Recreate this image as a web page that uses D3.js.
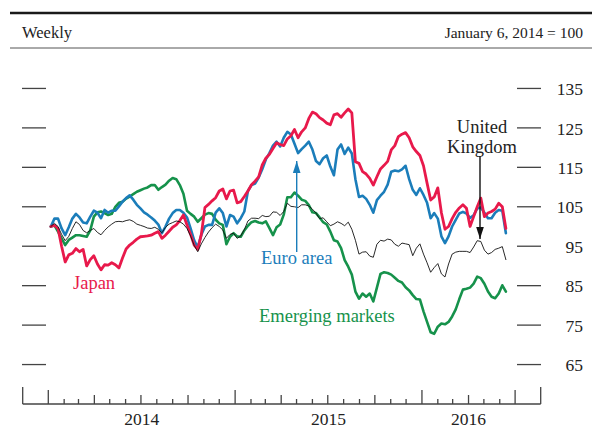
<!DOCTYPE html>
<html>
<head>
<meta charset="utf-8">
<script src="https://cdn.jsdelivr.net/npm/d3@7"></script>
<style>
  html, body { margin: 0; padding: 0; background: #fff; }
  svg { display: block; }
  text { font-family: "Liberation Serif", "Times New Roman", serif; }
</style>
</head>
<body>
<svg id="chart" width="592" height="430"></svg>
<script>
// Equity indexes, weekly, January 6, 2014 = 100
const seriesNames = ["Emerging markets", "Euro area", "Japan", "United Kingdom"];

const japan = [100,100.3,99.5,95,91,92.8,93.2,94.4,93.6,94.2,90,91.6,92.6,90.5,89,90.3,90.2,90.8,90.3,89.5,
  92,94.3,95.3,96,96.8,97.4,97.5,97.6,97.8,98.3,98.7,97,97.8,98.8,99.8,100.4,101.5,102.9,100.4,98,
  95.3,94.2,98,104.8,105.6,106.5,107.3,109,109.5,107,109,109.2,106,106.3,107.6,109,110.6,111.5,112.6,115.6,
  117.3,118.3,119.8,121.2,120.8,120.5,122.2,123,124.6,122.5,124,125,127.4,129,128.6,127.6,127,126.2,125.8,128.3,
  128.6,127.7,128.8,129.8,128.8,116.4,116,113.9,113.3,112.2,110.5,112.6,114.6,115.5,116.5,119.4,120.5,122.8,123.4,123.8,
  122.5,120.2,119,118,115.4,111,106.7,107.5,109.8,103.5,99.3,100,102,103.6,104.7,105.5,104.6,100,102.5,105,
  107.2,102.5,103.4,103.8,104.4,105.9,105,99.5];

const euroArea = [100,102,102,99.5,97.8,99.8,102,103.2,102.3,101,100.8,102.5,104,103.5,102.1,104.2,103.5,104,104,105.1,
  106.3,107.2,107.9,106.8,105.5,104.6,103.6,103,102.3,101.5,100.5,98.3,100,102,103.4,104.2,104.2,103.5,102.3,99.5,
  96.5,94.7,97.9,100,100.4,100.4,103.5,104.6,103.4,100,102.9,102.5,100.8,102.1,103.8,109,110.5,110.9,112.4,114.5,
  117,118.6,120.5,121.5,120.3,122.5,124,123.3,121,118.6,119.6,120.5,121.5,119.5,116.6,115.8,117.3,118,115.2,113,
  119.5,120.8,118.4,120,118.5,112,107.5,107.8,107,105.5,103.5,106.7,107.8,108.8,110.6,113.9,114.2,114,114.5,115.4,
  112,109.3,108,109.7,108,106,102.1,103.4,102,97.5,95.8,97.5,100,101.7,103.3,103.7,103.3,102.2,102.8,104.6,
  104.8,103.5,102.1,102.1,103.5,104.2,104,98.3];

const emerging = [100,100.3,98.7,97,95.3,96.6,97.2,97.8,97.8,97.6,97.4,99,102.5,103.6,103.8,103.4,102.9,103.2,105,106,
  106.3,107.1,107.6,108.2,108.8,109.2,109.6,109.9,110.5,110.5,109.3,110,110.6,111.6,112.3,112,110.5,108.3,104,103.2,
  102.5,101.2,102.1,103,103.4,103.2,101.7,100.8,100.4,95.5,97.4,98.3,97.5,97.4,99,100.2,101.1,101.4,101,100.8,
  101.3,99.6,97.8,99.8,100.5,103,107.4,107.4,108.6,107.8,106.8,106.5,105.4,103.6,103.4,102.3,101.1,100.5,98.7,96.5,
  96.2,94.5,91.5,89.8,87.8,83.5,81.7,83,82.2,83,81,84.5,88,88.4,88.2,87.8,87,86.2,85.8,84.6,
  83.8,82.6,81.6,81.5,78.5,75.8,73.2,72.8,74.6,75.4,75.2,75.8,77.2,79,81.6,84,84.2,84.5,85.5,87.3,
  86.9,85.5,83.5,82.2,81.8,83,85.1,83.5];

const unitedKingdom = [100,100.8,100,98,96.4,97.5,99.5,101.2,100.5,99,98.4,99,99.5,98.5,97.9,99,99.9,100.6,101.2,101.3,
  101.2,101.5,101.7,101.3,100.6,100.3,100,99.6,99.5,99.8,99.3,98.4,99.8,100.6,101,101.4,101.2,100.6,99.5,97.6,
  95.2,93.6,95.6,97.2,98.6,99.7,100.6,100,99.1,97,98,98.3,97,97.6,99.2,101.4,102.1,102.1,102,102.8,
  102.5,102.6,103.7,103.6,102.8,103.8,105.9,105.1,105,104.8,105.5,105.5,105.2,104.4,103.4,102,102.2,101.2,100.2,100.6,
  101.2,100.8,100.2,101.1,99.3,96.5,93,93.5,93.6,92.5,92.2,95.5,96.5,96.3,96.8,96.6,95.5,95,95.8,95.6,
  95.4,92.6,94.5,95.6,93,90.8,88.4,89.6,90.6,88,87.2,90.5,93,93.5,93.7,93.7,93.7,93.4,94.8,96.4,
  96.2,94,93,93.4,94.2,94.5,94.9,91.6];

const yTicks = [65, 75, 85, 95, 105, 115, 125, 135];
const yearLabels = ["2014", "2015", "2016"];

// Weekly observation dates (Mondays)
const weeks = d3.utcMonday.range(new Date(Date.UTC(2014, 0, 6)), new Date(Date.UTC(2016, 5, 14)));

const svg = d3.select("#chart");
const W = 592;

const x = d3.scaleUtc()
  .domain([new Date(Date.UTC(2013, 10, 12)), new Date(Date.UTC(2016, 7, 20))])
  .range([22.7, 540.7]);
const y = d3.scaleLinear().domain([55, 145]).range([404, 49]);

// Header rules and captions
svg.append("line").attr("x1", 10).attr("x2", W).attr("y1", 13).attr("y2", 13)
  .attr("stroke", "#1a1a1a").attr("stroke-width", 2.6);
svg.append("line").attr("x1", 10).attr("x2", W).attr("y1", 48).attr("y2", 48)
  .attr("stroke", "#555").attr("stroke-width", 1);
svg.append("text").attr("x", 22).attr("y", 37.5).attr("font-size", 16.5).attr("fill", "#222").text("Weekly");
svg.append("text").attr("x", 583).attr("y", 37.5).attr("font-size", 15.5).attr("fill", "#222")
  .attr("text-anchor", "end").text("January 6, 2014 = 100");

// Y axis: short dashes on both sides, labels on the right
const yAxisRight = d3.axisRight(y).tickValues(yTicks).tickSize(0).tickPadding(0);
const gy = svg.append("g").attr("transform", "translate(583,0)").call(yAxisRight);
gy.select(".domain").remove();
gy.selectAll("text").attr("text-anchor", "end").attr("x", 0).attr("dy", "0.35em")
  .attr("font-size", 17.5).attr("fill", "#222").style("font-family", '"Liberation Serif", serif');

const dashes = svg.append("g");
yTicks.forEach(v => {
  [[22, 46], [517, 541]].forEach(([a, b]) => {
    dashes.append("line").attr("x1", a).attr("x2", b).attr("y1", y(v)).attr("y2", y(v))
      .attr("stroke", "#444").attr("stroke-width", 1.3);
  });
});

// X axis: months, quarters and years marked with ticks of different heights
const monthTicks = d3.utcMonth.range(new Date(Date.UTC(2014, 0, 1)), new Date(Date.UTC(2016, 6, 2)));
const lastTick = monthTicks[monthTicks.length - 1];
const gx = svg.append("g");
gx.append("line").attr("x1", x.range()[0]).attr("x2", x.range()[1]).attr("y1", 404).attr("y2", 404)
  .attr("stroke", "#444").attr("stroke-width", 1.3);
[x.range()[0], x.range()[1]].forEach(px => {
  gx.append("line").attr("x1", px).attr("x2", px).attr("y1", 387).attr("y2", 404)
    .attr("stroke", "#444").attr("stroke-width", 1.3);
});
monthTicks.forEach(d => {
  const m = d.getUTCMonth();
  let len = 5;
  if (m === 0 || d === lastTick) len = 14;
  else if (m % 3 === 0) len = 9;
  gx.append("line").attr("x1", x(d)).attr("x2", x(d)).attr("y1", 404 - len).attr("y2", 404)
    .attr("stroke", "#444").attr("stroke-width", 1.3);
});
yearLabels.forEach(lbl => {
  const yr = +lbl;
  const a = new Date(Date.UTC(yr, 0, 1));
  let b = new Date(Date.UTC(yr + 1, 0, 1));
  if (b > lastTick) b = lastTick;
  gx.append("text").attr("x", (x(a) + x(b)) / 2).attr("y", 425)
    .attr("text-anchor", "middle").attr("font-size", 17.5).attr("fill", "#222").text(lbl);
});

// Series lines
const line = d3.line().x((d, i) => x(weeks[i])).y(d => y(d));
const layers = [
  { data: emerging, color: "#16924b", width: 2.6 },
  { data: euroArea, color: "#1b7dba", width: 2.6 },
  { data: japan, color: "#e8194b", width: 2.8 },
  { data: unitedKingdom, color: "#111", width: 0.9 }
];
layers.forEach(s => {
  svg.append("path").datum(s.data).attr("d", line)
    .attr("fill", "none").attr("stroke", s.color).attr("stroke-width", s.width)
    .attr("stroke-linejoin", "round").attr("stroke-linecap", "round");
});

// Series labels
svg.append("text").attr("x", 73).attr("y", 289).attr("font-size", 18.5).attr("fill", "#e8194b").text("Japan");
svg.append("text").attr("x", 261).attr("y", 264).attr("font-size", 18.5).attr("fill", "#1b7dba").text("Euro area");
svg.append("text").attr("x", 259).attr("y", 322).attr("font-size", 18.5).attr("fill", "#16924b").text("Emerging markets");
const uk = svg.append("text").attr("x", 482).attr("y", 133).attr("font-size", 18.5).attr("fill", "#222")
  .attr("text-anchor", "middle");
uk.append("tspan").attr("x", 482).text("United");
uk.append("tspan").attr("x", 482).attr("dy", 20).text("Kingdom");

// Pointer arrows
function arrow(px, yFrom, yTip, color) {
  svg.append("line").attr("x1", px).attr("x2", px).attr("y1", yFrom).attr("y2", yTip)
    .attr("stroke", color).attr("stroke-width", 1.4);
  const dir = yTip > yFrom ? -1 : 1;
  svg.append("path")
    .attr("d", `M${px},${yTip} L${px - 3.8},${yTip + dir * 12} L${px + 3.8},${yTip + dir * 12} Z`)
    .attr("fill", color);
}
arrow(296.7, 252, 161, "#1b7dba");
arrow(480, 156, 239, "#111");
</script>
</body>
</html>
